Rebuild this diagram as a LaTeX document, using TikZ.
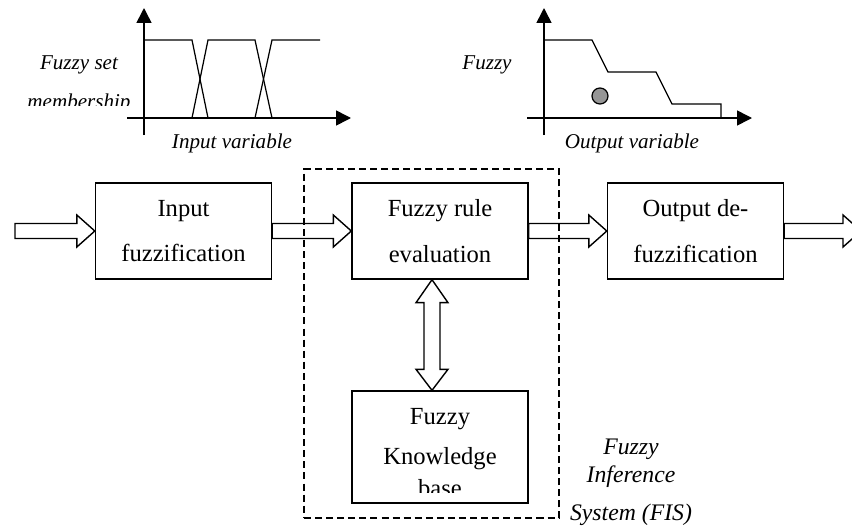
\documentclass[tikz,border=0pt]{standalone}
\usepackage{fontspec}
\setmainfont{Liberation Serif}
\usetikzlibrary{positioning,arrows.meta,calc}
\definecolor{DotGray}{RGB}{150,150,150}

% hollow block arrow, tip at #2
\newcommand{\hollowarrow}[2]{%
  \draw[blockline] ($(#1)+(0,-7.5)$) -- ($(#2)+(-18,-7.5)$) -- ($(#2)+(-18,-16)$) -- (#2)
    -- ($(#2)+(-18,16)$) -- ($(#2)+(-18,7.5)$) -- ($(#1)+(0,7.5)$) -- cycle;}

\begin{document}
\begin{tikzpicture}[x=0.02cm, y=-0.02cm,
  blockline/.style={line width=0.8pt, line join=miter},
  stagebox/.style={draw, line width=0.8pt, minimum width=3.52cm, minimum height=1.92cm, align=center, font=\fontsize{14}{26}\selectfont},
  boxtext/.style={align=center, inner sep=0pt, font=\fontsize{14}{23}\selectfont},
  plotlabel/.style={inner sep=0pt, font=\fontsize{12}{14}\selectfont\itshape},
  axis/.style={line width=0.9pt, -{Triangle[length=0.3cm, width=0.3cm]}},
  curve/.style={line width=0.7pt}]
  \useasboundingbox (0,0) rectangle (852,531);

  % input membership plot
  \draw[axis] (144,135) -- (144,8);
  \draw[axis] (127,118) -- (351,118);
  \draw[curve] (144,40) -- (192,40) -- (208,118);
  \draw[curve] (192,118) -- (208,40) -- (255,40) -- (272,118);
  \draw[curve] (255,118) -- (272,40) -- (320,40);
  \node[plotlabel, anchor=base] (inset) at (79,69) {Fuzzy set};
  \begin{scope}
    \clip (0,80) rectangle (140,105);
    \node[plotlabel, anchor=base] (inmember) at (79,108.5) {membership};
  \end{scope}
  \node[plotlabel, anchor=base] (invar) at (232,148) {Input variable};

  % output membership plot
  \draw[axis] (544,135) -- (544,8);
  \draw[axis] (527,118) -- (752,118);
  \draw[curve] (544,40) -- (592,40) -- (608,72) -- (656,72) -- (672,104) -- (721,104) -- (721,118);
  \draw[curve, fill=DotGray] (600,96) circle (0.16cm);
  \node[plotlabel, anchor=base] (outset) at (487,69) {Fuzzy};
  \node[plotlabel, anchor=base] (outvar) at (632,148) {Output variable};

  % stages
  \node[draw, dash pattern=on 4pt off 2.3pt, line width=0.8pt, minimum width=5.1cm, minimum height=6.98cm] (fis) at (431.5,343.5) {};
  \node[stagebox] (fuzz) at (183.5,231) {Input\\fuzzification};
  \node[stagebox] (rule) at (440,231) {Fuzzy rule\\evaluation};
  \node[stagebox] (defuzz) at (695.5,231) {Output de-\\fuzzification};
  \node[stagebox, minimum height=2.24cm] (kb) at (440,447) {};
  \node[boxtext, anchor=north] (kbtext) at (440,408) {Fuzzy\\Knowledge};
  \begin{scope}
    \clip (352,470) rectangle (528,492);
    \node[boxtext, anchor=base] (kbbase) at (440,496) {base};
  \end{scope}
  \node[plotlabel, align=center, font=\fontsize{13.5}{15.9}\selectfont\itshape, anchor=north] (fislabel) at (631,439) {Fuzzy\\Inference\\[5.6pt]System (FIS)};

  % flow
  \coordinate (inend) at (15,231);
  \coordinate (outend) at (861,231);
  \hollowarrow{inend}{fuzz.west}
  \hollowarrow{fuzz.east}{rule.west}
  \hollowarrow{rule.east}{defuzz.west}
  \hollowarrow{defuzz.east}{outend}
  \coordinate (ruletip) at ($(rule.south)+(-8,0)$);
  \coordinate (kbtip) at ($(kb.north)+(-8,0)$);
  \draw[blockline] (ruletip) -- ($(ruletip)+(16,23)$) -- ($(ruletip)+(8,23)$) -- ($(kbtip)+(8,-21)$)
    -- ($(kbtip)+(16,-21)$) -- (kbtip) -- ($(kbtip)+(-16,-21)$) -- ($(kbtip)+(-8,-21)$)
    -- ($(ruletip)+(-8,23)$) -- ($(ruletip)+(-16,23)$) -- cycle;
\end{tikzpicture}
\end{document}
